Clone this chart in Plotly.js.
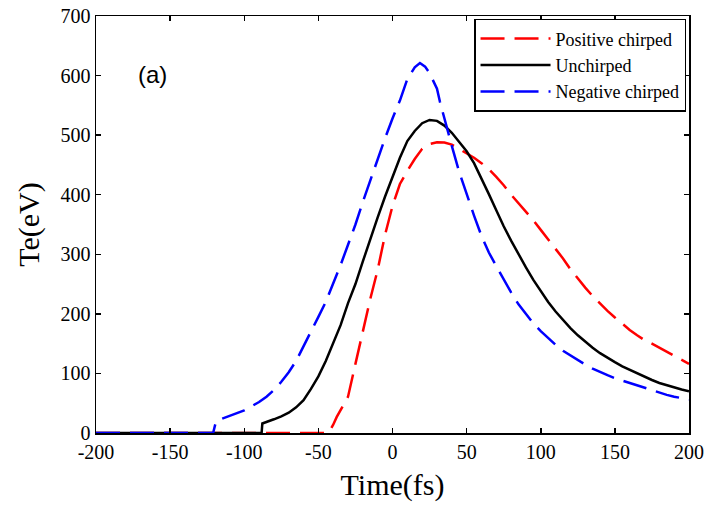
<!DOCTYPE html>
<html>
<head>
<meta charset="utf-8">
<script src="https://cdn.plot.ly/plotly-3.0.1.min.js"></script>
<style>html,body{margin:0;padding:0;background:#fff;}#chart{width:712px;height:506px;}</style>
</head>
<body>
<div id="chart"></div>
<script>
const posX = [-200, -100, -44, -42.2, -40, -37.6, -35, -30, -25, -20, -15, -10, -5, 0, 5, 10, 15, 20, 25, 30, 35, 40, 45, 50, 55, 60, 65, 70, 75, 80, 85, 90, 95, 100, 105, 110, 115, 120, 125, 130, 135, 140, 145, 150, 155, 160, 165, 170, 175, 180, 185, 190, 195, 200];
const posY = [0, 0, 0, 4.5, 14, 27, 39, 61, 116, 172, 225, 274, 333, 381, 418, 440, 460, 477, 485, 488, 487.5, 484, 477, 469, 462, 453, 443, 430, 416, 400, 386, 372, 357, 341, 325, 310, 293, 275, 259, 244, 230, 217, 205, 194, 183, 173, 164, 156, 150, 143, 137, 130, 123, 116];

const unX = [-200, -150, -88.3, -87.8, -85, -80, -75, -70, -65, -60, -55, -50, -45, -40, -35, -30, -25, -20, -15, -10, -5, 0, 5, 10, 15, 20, 25, 30, 35, 40, 45, 50, 55, 60, 65, 70, 75, 80, 85, 90, 95, 100, 105, 110, 115, 120, 125, 130, 135, 140, 145, 150, 155, 160, 165, 170, 175, 180, 185, 190, 195, 200];
const unY = [0, 0, 0, 16, 19, 23, 28, 34, 43, 55, 74, 95, 121, 151, 181, 218, 250, 288, 326, 362, 397, 430, 462, 490, 507, 520, 525.5, 524, 516, 504, 489, 473, 453, 428, 401, 374, 347, 323, 300, 278, 257, 238, 220, 204, 190, 176, 164, 153, 143, 134, 126, 119, 112, 106, 100, 95, 89, 84, 80, 76, 73, 70];

const negX = [-200, -160, -121, -119.5, -118.6, -115, -110, -105, -100, -95, -90, -85, -80, -75, -70, -65, -60, -55, -50, -45, -40, -35, -30, -25, -20, -15, -10, -5, 0, 5, 10, 15, 18.5, 22, 25, 28, 30, 32, 35, 40, 45, 50, 55, 60, 65, 70, 75, 80, 85, 90, 95, 100, 105, 110, 115, 120, 125, 130, 135, 140, 145, 150, 155, 160, 165, 170, 175, 180, 185, 190, 195, 200];
const negY = [0, 0, 0, 15, 21, 24, 29, 33, 38, 45, 52, 61, 72, 86, 102, 121, 145, 170, 195, 220, 250, 282, 316, 350, 388, 424, 458, 495, 528, 558, 594, 614, 621, 615, 604, 590, 578, 556, 527, 482, 438, 400, 365, 331, 303, 280, 257, 236, 216, 199, 184, 171, 159, 148, 138, 130, 122, 115, 108, 102, 97, 92, 88, 84, 80, 75, 71, 67, 64, 61, 58, 56];

const seriesNames = ['Positive chirped', 'Unchirped', 'Negative chirped'];
const xTicks = [-200, -150, -100, -50, 0, 50, 100, 150, 200];
const yTicks = [0, 100, 200, 300, 400, 500, 600, 700];

const serif = 'Liberation Serif, Times New Roman, serif';

const traces = [
  {x: posX, y: posY, name: seriesNames[0], mode: 'lines',
   line: {color: '#ff0000', width: 2.5, dash: '24px,10px'}},
  {x: unX, y: unY, name: seriesNames[1], mode: 'lines',
   line: {color: '#000000', width: 2.5}},
  {x: negX, y: negY, name: seriesNames[2], mode: 'lines',
   line: {color: '#0000ff', width: 2.5, dash: '24px,10px'}}
];

const axisCommon = {
  showgrid: false, zeroline: false, showline: true, linecolor: '#000', linewidth: 1.5,
  mirror: 'ticks', ticks: 'inside', ticklen: 5, tickwidth: 1.5, tickcolor: '#000',
  tickfont: {family: serif, size: 20, color: '#000'}
};

const layout = {
  width: 712, height: 506,
  margin: {l: 96, r: 23, t: 16, b: 73},
  paper_bgcolor: '#fff', plot_bgcolor: '#fff',
  showlegend: true,
  xaxis: Object.assign({}, axisCommon, {
    range: [-200, 200], tickvals: xTicks, ticktext: xTicks.map(String),
    ticklabelstandoff: 0,
    title: {text: 'Time(fs)', font: {family: serif, size: 30, color: '#000'}, standoff: 12}
  }),
  yaxis: Object.assign({}, axisCommon, {
    range: [0, 700], tickvals: yTicks, ticktext: yTicks.map(String),
    title: {text: 'Te(eV)', font: {family: serif, size: 30, color: '#000'}, standoff: 12}
  }),
  legend: {
    x: 0.995, y: 0.993, xanchor: 'right', yanchor: 'top',
    bgcolor: '#fff', bordercolor: '#000', borderwidth: 1.5,
    font: {family: serif, size: 18, color: '#000'},
    itemwidth: 70, tracegroupgap: 0
  },
  annotations: [{
    x: -162, y: 602, xref: 'x', yref: 'y', text: '(a)', showarrow: false,
    font: {family: 'Liberation Sans, Arial, sans-serif', size: 24, color: '#000'}
  }]
};

Plotly.newPlot('chart', traces, layout, {displayModeBar: false, staticPlot: true});
</script>
</body>
</html>
